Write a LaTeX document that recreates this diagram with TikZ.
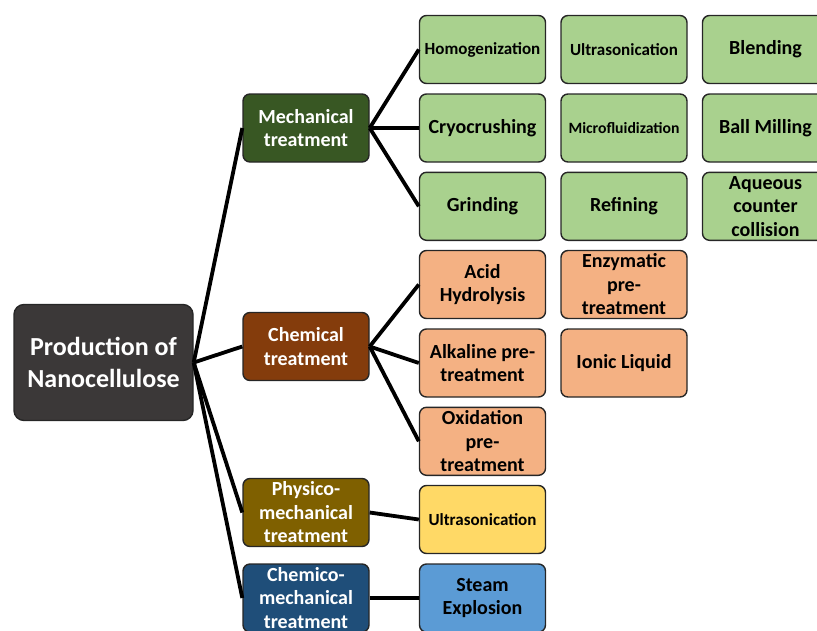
\documentclass[tikz,border=0pt]{standalone}
\usepackage{fontspec}
\setmainfont{Carlito}
\usetikzlibrary{positioning}

\definecolor{rootgray}{RGB}{59,56,56}
\definecolor{mechgreen}{RGB}{56,87,35}
\definecolor{chembrown}{RGB}{132,60,12}
\definecolor{physgold}{RGB}{127,96,0}
\definecolor{chemblue}{RGB}{31,78,121}
\definecolor{lightgreen}{RGB}{169,209,142}
\definecolor{lightorange}{RGB}{244,177,131}
\definecolor{lightyellow}{RGB}{255,217,102}
\definecolor{lightblue}{RGB}{91,155,213}
\definecolor{edge}{RGB}{38,38,38}

\tikzset{
  box/.style={draw=edge, line width=1.4pt, rounded corners=7pt,
    minimum width=126pt, minimum height=68pt, inner sep=1pt, align=center,
    font=\bfseries\fontsize{20}{23.5}\selectfont},
  rootbox/.style={box, fill=rootgray, text=white, minimum width=179pt,
    minimum height=116pt, rounded corners=10pt,
    font=\bfseries\fontsize{26}{32}\selectfont},
  catbox/.style={box, text=white},
  methodbox/.style={box, text=black},
  smalltext/.style={font=\bfseries\fontsize{17}{20}\selectfont},
  tinytext/.style={font=\bfseries\fontsize{15.7}{19}\selectfont},
  link/.style={line width=3.8pt},
}

\begin{document}
\begin{tikzpicture}[x=1pt,y=-1pt]
    \useasboundingbox (0,0) rectangle (817,630);

    % Wurzel
    \node[rootbox] (prod) at (103.5,362.5) {Production of\\Nanocellulose};

    % Behandlungen
    \node[catbox, fill=mechgreen] (mech) at (306,128) {Mechanical\\treatment};
    \node[catbox, fill=chembrown] (chem) at (306,346.5) {Chemical\\treatment};
    \node[catbox, fill=physgold] (phys) at (306,512.5) {Physico-\\mechanical\\treatment};
    \node[catbox, fill=chemblue] (chmech) at (306,598) {Chemico-\\mechanical\\treatment};

    % mechanische Verfahren
    \node[methodbox, fill=lightgreen, smalltext] (homog) at (482.5,49.5) {Homogenization};
    \node[methodbox, fill=lightgreen, smalltext] (usonic) at (624,49.5) {Ultrasonication};
    \node[methodbox, fill=lightgreen] (blend) at (765.5,49.5) {Blending};
    \node[methodbox, fill=lightgreen] (cryo) at (482.5,128) {Cryocrushing};
    \node[methodbox, fill=lightgreen, tinytext] (microfl) at (624,128) {Microfluidization};
    \node[methodbox, fill=lightgreen] (ballmill) at (765.5,128) {Ball Milling};
    \node[methodbox, fill=lightgreen] (grind) at (482.5,206.3) {Grinding};
    \node[methodbox, fill=lightgreen] (refine) at (624,206.3) {Refining};
    \node[methodbox, fill=lightgreen] (aqueous) at (765.5,206.3) {Aqueous\\counter\\collision};

    % chemische Verfahren
    \node[methodbox, fill=lightorange] (acid) at (482.5,284.5) {Acid\\Hydrolysis};
    \node[methodbox, fill=lightorange] (enzym) at (624,284.5) {Enzymatic\\pre-\\treatment};
    \node[methodbox, fill=lightorange] (alkal) at (482.5,363) {Alkaline pre-\\treatment};
    \node[methodbox, fill=lightorange] (ionic) at (624,363) {Ionic Liquid};
    \node[methodbox, fill=lightorange] (oxid) at (482.5,441.3) {Oxidation\\pre-\\treatment};

    % kombinierte Verfahren
    \node[methodbox, fill=lightyellow, smalltext] (usonic2) at (482.5,519.5) {Ultrasonication};
    \node[methodbox, fill=lightblue] (steam) at (482.5,598) {Steam\\Explosion};

    % Verbindungen
    \foreach \c in {mech,chem,phys,chmech}
      \draw[link] (prod.east) -- (\c.west);
    \foreach \m in {homog,cryo,grind}
      \draw[link] (mech.east) -- (\m.west);
    \foreach \m in {acid,alkal,oxid}
      \draw[link] (chem.east) -- (\m.west);
    \draw[link] (phys.east) -- (usonic2.west);
    \draw[link] (chmech.east) -- (steam.west);

\end{tikzpicture}
\end{document}
